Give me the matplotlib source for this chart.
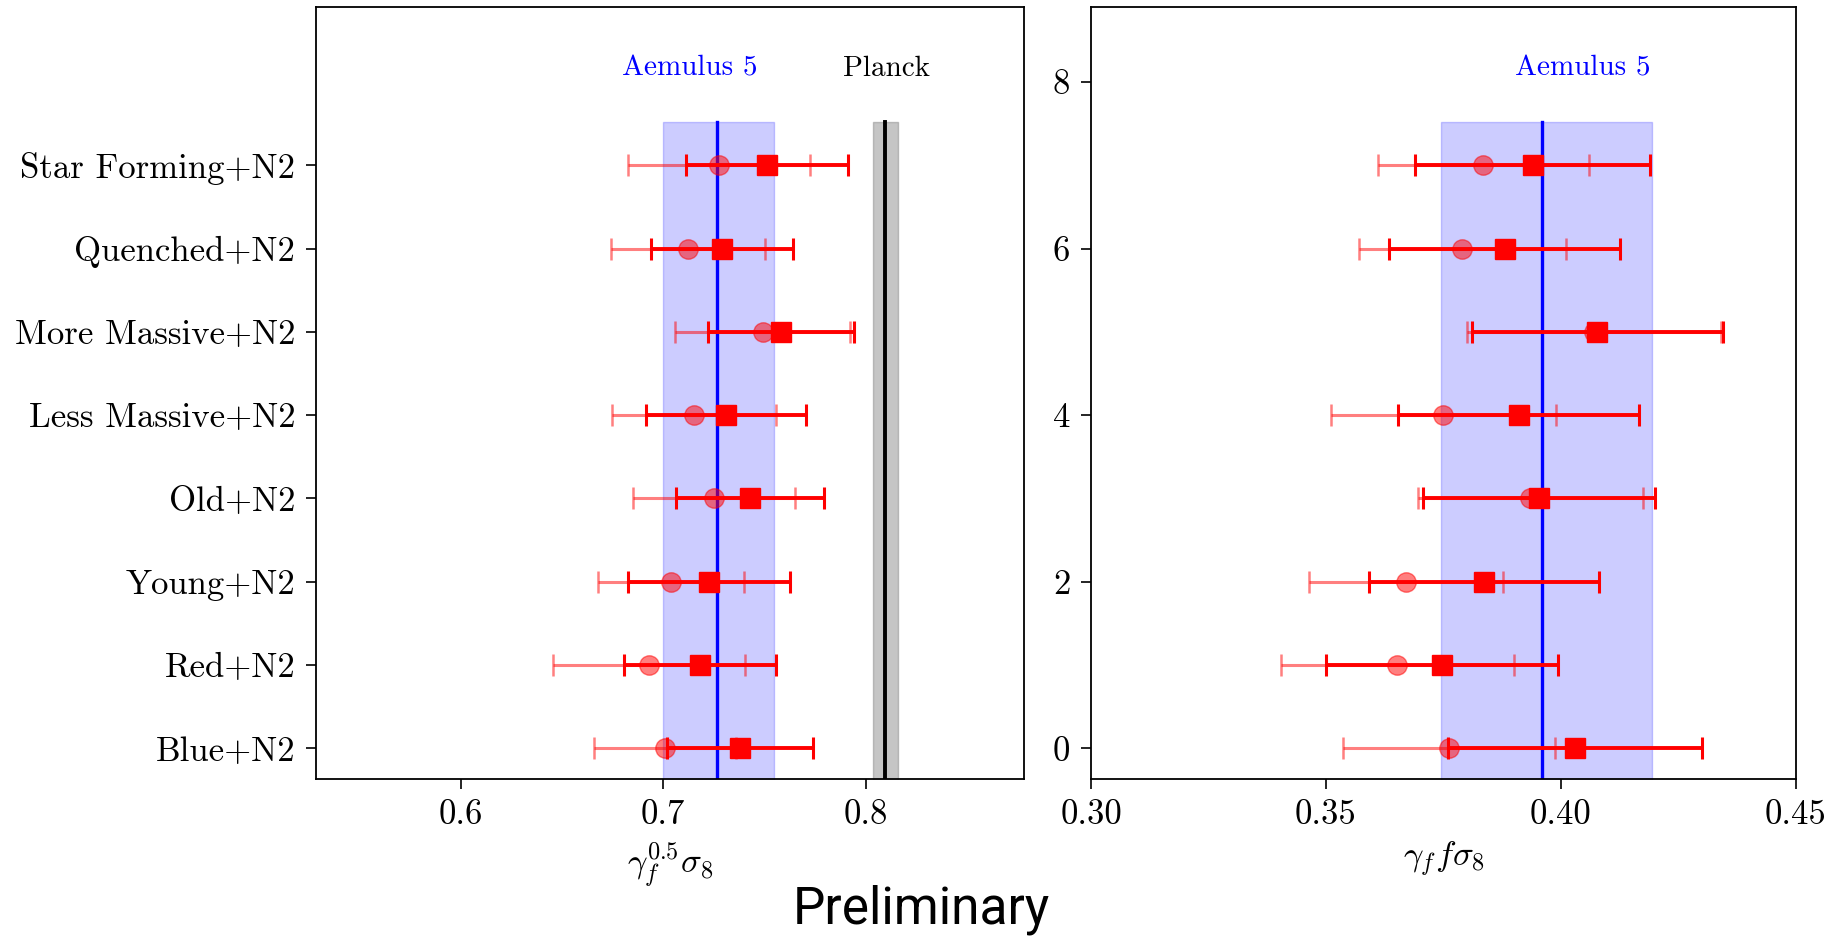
import numpy as np
import matplotlib
matplotlib.use("Agg")
import matplotlib.pyplot as plt

plt.rcParams['font.family'] = 'serif'
plt.rcParams['font.serif'] = ['cmr10']
plt.rcParams['mathtext.fontset'] = 'cm'
plt.rcParams['axes.unicode_minus'] = False
plt.rcParams['axes.formatter.use_mathtext'] = True

# sample labels (y = 0 .. 7)
samples = ['Blue+N2', 'Red+N2', 'Young+N2', 'Old+N2',
           'Less Massive+N2', 'More Massive+N2', 'Quenched+N2', 'Star Forming+N2']

# left panel: gamma_f^0.5 sigma_8
left_circ = [0.7007, 0.693, 0.704, 0.725, 0.715, 0.749, 0.712, 0.7276]
left_circ_err = [0.035, 0.0475, 0.036, 0.040, 0.0405, 0.043, 0.038, 0.045]
left_sq = [0.738, 0.718, 0.7225, 0.743, 0.731, 0.758, 0.729, 0.751]
left_sq_err = [0.036, 0.0375, 0.040, 0.0365, 0.0395, 0.036, 0.035, 0.040]

# right panel: gamma_f f sigma_8
right_circ = [0.3762, 0.3652, 0.367, 0.3935, 0.375, 0.407, 0.379, 0.3835]
right_circ_err = [0.0225, 0.0247, 0.0207, 0.024, 0.024, 0.027, 0.022, 0.0225]
right_sq = [0.403, 0.3747, 0.3836, 0.3953, 0.391, 0.4077, 0.388, 0.394]
right_sq_err = [0.027, 0.0246, 0.0245, 0.0247, 0.0257, 0.0267, 0.0245, 0.025]

# reference values
aemulus_left, aemulus_left_lo, aemulus_left_hi = 0.7267, 0.70, 0.7545
planck, planck_lo, planck_hi = 0.8095, 0.8035, 0.8157
aemulus_right, aemulus_right_lo, aemulus_right_hi = 0.396, 0.3745, 0.4193
band_top = 7.52


def draw_points(ax, circ, circ_err, sq, sq_err):
    y = np.arange(len(circ))
    ax.errorbar(circ, y, xerr=circ_err, fmt='o', color='red', alpha=0.5,
                markersize=14, elinewidth=2.2, capsize=8, capthick=1.8)
    ax.errorbar(sq, y, xerr=sq_err, fmt='s', color='red',
                markersize=15, elinewidth=2.8, capsize=8, capthick=2.2)


fig = plt.figure(figsize=(18.42, 9.41), dpi=100)
ax1 = fig.add_axes([0.1716, 0.1722, 0.3843, 0.8204])
ax2 = fig.add_axes([0.5923, 0.1722, 0.3827, 0.8204])

# left panel
ax1.fill_betweenx([-1, band_top], aemulus_left_lo, aemulus_left_hi, color='blue', alpha=0.2)
ax1.plot([aemulus_left, aemulus_left], [-1, band_top], color='blue', lw=2.4)
ax1.fill_betweenx([-1, band_top], planck_lo, planck_hi, color='gray', alpha=0.45)
ax1.plot([planck, planck], [-1, band_top], color='black', lw=2.8)
draw_points(ax1, left_circ, left_circ_err, left_sq, left_sq_err)
ax1.text(0.713, 8.16, 'Aemulus 5', color='blue', fontsize=21, ha='center', va='center')
ax1.text(0.810, 8.16, 'Planck', color='black', fontsize=21, ha='center', va='center')
ax1.set_xlim(0.5287, 0.878)
ax1.set_ylim(-0.367, 8.9)
ax1.set_xticks([0.6, 0.7, 0.8])
ax1.set_xticklabels(['0.6', '0.7', '0.8'])
ax1.set_yticks(np.arange(len(samples)))
ax1.set_yticklabels(samples)
ax1.set_xlabel(r'$\gamma_f^{0.5}\sigma_8$', fontsize=25, labelpad=6)

# right panel
ax2.fill_betweenx([-1, band_top], aemulus_right_lo, aemulus_right_hi, color='blue', alpha=0.2)
ax2.plot([aemulus_right, aemulus_right], [-1, band_top], color='blue', lw=2.4)
draw_points(ax2, right_circ, right_circ_err, right_sq, right_sq_err)
ax2.text(0.4047, 8.16, 'Aemulus 5', color='blue', fontsize=21, ha='center', va='center')
ax2.set_xlim(0.30, 0.45)
ax2.set_ylim(-0.367, 8.9)
ax2.set_xticks([0.30, 0.35, 0.40, 0.45])
ax2.set_xticklabels(['0.30', '0.35', '0.40', '0.45'])
ax2.set_yticks([0, 2, 4, 6, 8])
ax2.set_yticklabels(['0', '2', '4', '6', '8'])
ax2.set_xlabel(r'$\gamma_f f\sigma_8$', fontsize=25, labelpad=6)

for ax in (ax1, ax2):
    ax.tick_params(labelsize=25, length=7, width=1.2, pad=8)
    for s in ax.spines.values():
        s.set_linewidth(1.3)

fig.text(0.5, 0.033, 'Preliminary', family='Roboto', fontsize=37,
         ha='center', va='center')

fig.savefig('out.png', dpi=100)
